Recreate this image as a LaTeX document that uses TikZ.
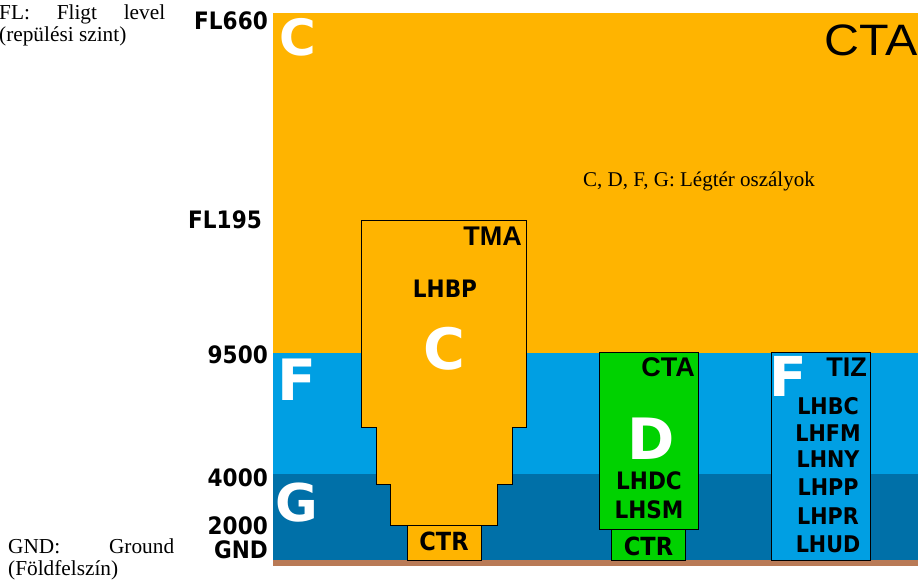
\documentclass[tikz,border=0pt]{standalone}
\usepackage{fontspec}
\setmainfont{Liberation Serif}
\newfontfamily\labfont{DejaVu Sans Condensed}
\newfontfamily\bigfont{DejaVu Sans}
\newfontfamily\arfont{Liberation Sans}
\definecolor{caorange}{RGB}{255,180,0}
\definecolor{calblue}{RGB}{0,159,227}
\definecolor{cadblue}{RGB}{0,112,168}
\definecolor{cagreen}{RGB}{0,210,0}
\definecolor{cabrown}{RGB}{185,122,86}
\tikzset{
  lvl/.style={inner sep=0, anchor=base east, font=\labfont\bfseries\fontsize{24}{24}\selectfont},
  code/.style={inner sep=0, anchor=base, font=\labfont\bfseries\fontsize{#1}{#1}\selectfont},
  code/.default=24,
  bigl/.style={inner sep=0, anchor=base, text=white, font=\bigfont\bfseries\fontsize{#1}{#1}\selectfont},
  bigl/.default=57,
  zname/.style={inner sep=0, anchor=base east, font=\arfont\bfseries\fontsize{27}{27}\selectfont},
  note/.style={inner sep=0, anchor=north west, text width=166pt, align=justify, font=\fontsize{21.3}{22}\selectfont},
  zone/.style={draw=black, line width=0.8pt}
}
\begin{document}
\begin{tikzpicture}[x=1pt,y=-1pt]
\useasboundingbox (0,0) rectangle (918,583);
% bands
\fill[caorange] (273,13) rectangle (918,352.7);
\fill[calblue] (273,352.7) rectangle (918,474);
\fill[cadblue] (273,474) rectangle (918,560);
\fill[cabrown] (273,560) rectangle (918,566);
% TMA / CTR Budapest
\filldraw[fill=caorange, zone] (361.7,220.7) -- (526.7,220.7) -- (526.7,427.3) -- (512.3,427.3)
  -- (512.3,484) -- (497.3,484) -- (497.3,525) -- (390.7,525) -- (390.7,484) -- (376,484)
  -- (376,427.3) -- (361.7,427.3) -- cycle;
\filldraw[fill=caorange, zone] (407.7,525) rectangle (481,560);
% CTA Debrecen
\filldraw[fill=cagreen, zone] (599.3,352.7) rectangle (698.7,529);
\filldraw[fill=cagreen, zone] (611.7,529) rectangle (685.3,560);
% TIZ
\filldraw[fill=calblue, zone] (771.7,352.7) rectangle (870.3,560);
% level labels
\node[lvl] (fl660) at (268,30) {FL660};
\node[lvl] (fl195) at (262,228) {FL195};
\node[lvl] (l9500) at (268,363) {9500};
\node[lvl] (l4000) at (268,486) {4000};
\node[lvl] (l2000) at (268,534) {2000};
\node[lvl] (lgnd) at (268,558) {GND};
% notes
\node[note] (noteFL) at (-1,5) {FL:\hfill Fligt\hfill level\\(repülési szint)};
\node[note] (noteGND) at (8,539) {GND:\hfill Ground\\(Földfelszín)};
\node[inner sep=0, anchor=base west, font=\fontsize{21}{21}\selectfont] (classes) at (583,186) {C, D, F, G: Légtér oszályok};
% big class letters
\node[bigl=50] (bigC) at (298,56) {C};
\node[inner sep=0, anchor=base east, font=\arfont\fontsize{44}{44}\selectfont] (cta) at (918,56) {\scalebox{1.1}[1]{CTA}};
\node[bigl=57] (bigF) at (297,400) {F};
\node[bigl=52] (bigG) at (297,521) {G};
% TMA contents
\node[zname] (tma) at (522,245) {TMA};
\node[code=24] (lhbp) at (445,297) {LHBP};
\node[bigl=57] (tmaC) at (444.5,369) {C};
\node[code=25] (ctr1) at (444,550) {CTR};
% CTA contents
\node[zname] (cta2) at (695,376) {CTA};
\node[bigl=57] (bigD) at (651,459) {D};
\node[code=24] (lhdc) at (649,489) {LHDC};
\node[code=24] (lhsm) at (649,518) {LHSM};
\node[code=25] (ctr2) at (648.5,555) {CTR};
% TIZ contents
\node[bigl=55] (tizF) at (788,396.5) {F};
\node[zname] (tiz) at (867,376) {TIZ};
\node[code=23] (lhbc) at (828,414) {LHBC};
\node[code=23] (lhfm) at (828,441) {LHFM};
\node[code=23] (lhny) at (828,467) {LHNY};
\node[code=23] (lhpp) at (828,495) {LHPP};
\node[code=23] (lhpr) at (828,524) {LHPR};
\node[code=23] (lhud) at (828,552) {LHUD};
\end{tikzpicture}
\end{document}
